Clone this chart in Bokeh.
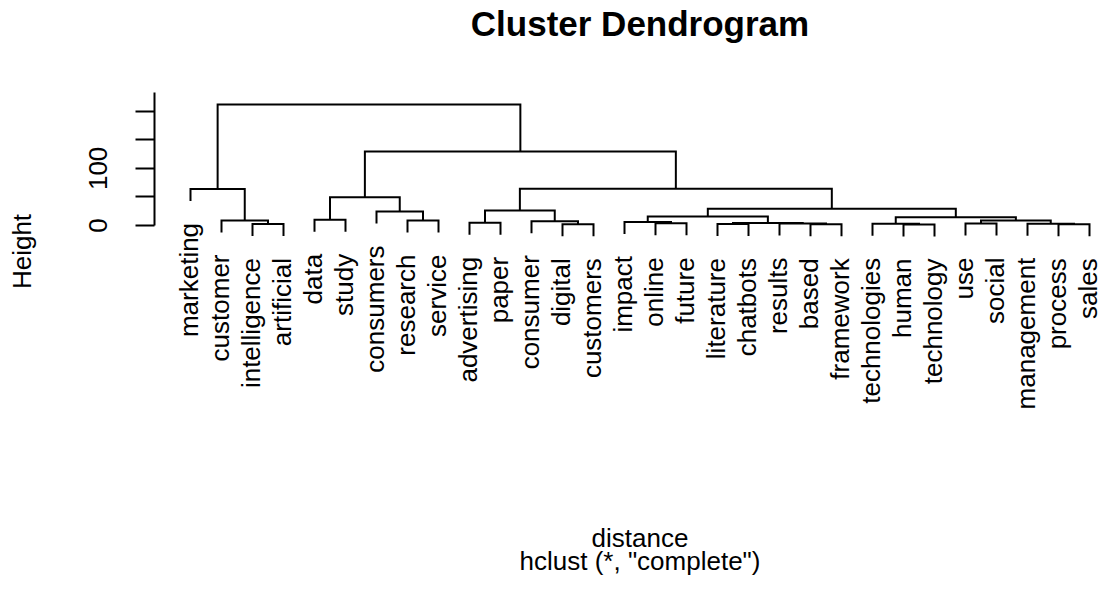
import numpy as np
from bokeh.plotting import figure
from bokeh.models import Range1d, LinearAxis, FixedTicker, ColumnDataSource
from bokeh.core.properties import value
from bokeh.embed import file_html
from bokeh.resources import INLINE

# ---- data (leaves in plotted order) ----
labels = ["marketing", "customer", "intelligence", "artificial", "data", "study",
          "consumers", "research", "service", "advertising", "paper", "consumer",
          "digital", "customers", "impact", "online", "future", "literature",
          "chatbots", "results", "based", "framework", "technologies", "human",
          "technology", "use", "social", "management", "process", "sales"]

# R-style merge table: negative = leaf (1-based position), positive = earlier merge
merge_left = [-24, -21, -29, -13, -18, -3, -23, -20, -26, -28, -16, 5, -10, -15,
              -12, -2, -8, 9, -5, 7, 14, -7, 13, 21, 19, -1, 23, 25, 26]
merge_right = [-25, -22, -30, -14, -19, -4, 1, 2, -27, 3, -17, 8, -11, 11,
               4, 6, -9, 10, -6, 18, 12, 17, 15, 20, 22, 16, 24, 27, 28]
merge_height = [1.75, 2.1, 2.1, 2.3, 2.6, 2.6, 3.0, 3.5, 3.5, 3.2, 3.8, 4.4, 4.7, 6.1,
                7.5, 8.75, 8.7, 8.7, 10.0, 14.5, 15.7, 24.5, 26.2, 29.2, 49.5, 64.0,
                64.2, 129.5, 211.7]

y_ticks = [0, 50, 100, 150, 200]
y_tick_labels = {0: "0", 50: "", 100: "100", 150: "", 200: ""}

title_text = "Cluster Dendrogram"
xlab_text = "distance"
sub_text = 'hclust (*, "complete")'
ylab_text = "Height"

# ---- layout ----
W, H = 1101, 590
ppu = 0.5715               # pixels per height unit
zero_px = 225              # canvas y of height 0
y_hi = zero_px / ppu
y_lo = y_hi - H / ppu
leaf_px = 31.0             # pixels per leaf
first_leaf_px = 190        # canvas x of the first leaf
x_lo = 1 - first_leaf_px / leaf_px
x_hi = x_lo + W / leaf_px

def canvas_to_y(cy):
    return y_hi - cy / ppu

def canvas_to_x(cx):
    return x_lo + cx / leaf_px

n = len(labels)
hang = 0.1 * (max(merge_height) - min(merge_height))
leaf_x = np.arange(1, n + 1, dtype=float)
axis_x = 1 - 0.04 * (n - 1)          # left edge of R's plot region

node_x, node_y = [], []
xs, ys = [], []
leaf_bottom = np.zeros(n)
for a, b, h in zip(merge_left, merge_right, merge_height):
    pts = []
    for k in (a, b):
        if k < 0:
            x = leaf_x[-k - 1]
            y = h - hang
            leaf_bottom[-k - 1] = y
        else:
            x = node_x[k - 1]
            y = node_y[k - 1]
        pts.append((x, y))
    (xa, ya), (xb, yb) = pts
    xs.append([xa, xa, xb, xb])
    ys.append([ya, h, h, yb])
    node_x.append((xa + xb) / 2)
    node_y.append(h)

p = figure(width=W, height=H, x_range=Range1d(x_lo, x_hi), y_range=Range1d(y_lo, y_hi),
           x_axis_type=None, y_axis_type=None, output_backend="svg",
           toolbar_location=None, min_border_left=0, min_border_right=0,
           min_border_top=0, min_border_bottom=0)
p.outline_line_color = None
p.background_fill_color = "white"
p.border_fill_color = "white"

p.multi_line(xs=xs, ys=ys, line_color="black", line_width=2, line_join="miter")

label_gap = 22 / ppu
label_shift = 2 / leaf_px
src = ColumnDataSource(dict(x=leaf_x - label_shift, y=leaf_bottom - label_gap, t=labels))
p.text(x="x", y="y", text="t", source=src, angle=np.pi / 2, text_align="right",
       text_baseline="middle", text_font=value("Liberation Sans"),
       text_font_size="26px", text_color="black")

ax = LinearAxis(ticker=FixedTicker(ticks=y_ticks), bounds=(0, 233),
                fixed_location=axis_x)
ax.major_label_overrides = {k: v for k, v in y_tick_labels.items()}
ax.major_label_text_font = "Liberation Sans"
ax.major_label_text_font_size = "26px"
ax.major_label_text_color = "black"
ax.major_label_orientation = "vertical"
ax.major_label_standoff = 29
ax.major_tick_out = 19
ax.major_tick_in = 0
ax.minor_tick_out = 0
ax.minor_tick_in = 0
ax.axis_line_width = 2
ax.major_tick_line_width = 2
ax.axis_line_color = "black"
ax.major_tick_line_color = "black"
p.add_layout(ax, "left")

# y-axis title, centred on the plot region like R does
p.text(x=[canvas_to_x(21)], y=[canvas_to_y(251)], text=[ylab_text], angle=np.pi / 2,
       text_align="center", text_baseline="middle", text_font=value("Liberation Sans"),
       text_font_size="26px", text_color="black")

xc = (1 + n) / 2
p.text(x=[xc], y=[canvas_to_y(23)], text=[title_text], text_align="center",
       text_baseline="middle", text_font=value("Liberation Sans"),
       text_font_size="35px", text_font_style="bold", text_color="black")
p.text(x=[xc], y=[canvas_to_y(537)], text=[xlab_text], text_align="center",
       text_baseline="middle", text_font=value("Liberation Sans"),
       text_font_size="26px", text_color="black")
p.text(x=[xc], y=[canvas_to_y(560)], text=[sub_text], text_align="center",
       text_baseline="middle", text_font=value("Liberation Sans"),
       text_font_size="26px", text_color="black")

open("out.html", "w").write(file_html(p, INLINE))
